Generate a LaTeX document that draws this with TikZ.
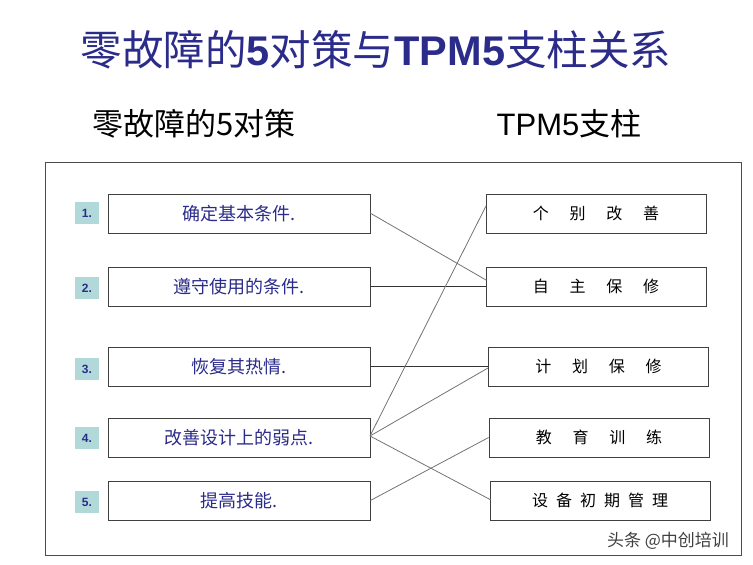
\documentclass[tikz,border=0pt]{standalone}
\usepackage{fontspec}
\newfontfamily\cjk{Noto Sans CJK SC}
\setmainfont{Liberation Sans}
\begin{document}
\begin{tikzpicture}[x=1pt,y=-1pt,
  lbox/.style={draw=black!75,line width=0.8pt,minimum width=262pt,minimum height=39pt,inner sep=0pt,font=\cjk\fontsize{18}{20}\selectfont,text=navy},
  rbox/.style={draw=black!75,line width=0.8pt,minimum width=220pt,minimum height=39pt,inner sep=0pt,font=\cjk\fontsize{16}{18}\selectfont},
  num/.style={fill=teal!30,minimum width=24pt,minimum height=22pt,inner sep=0pt,font=\bfseries\fontsize{12}{14}\selectfont,text=navy},
  conn/.style={draw=black!55,line width=0.8pt}]
\definecolor{navy}{HTML}{2B2B8A}
\useasboundingbox (0,0) rectangle (753,565);
\node[font=\fontsize{41.5}{48}\selectfont,text=navy] (title) at (376,50) {{\cjk 零故障的}\textbf{5}{\cjk 对策与}\textbf{TPM5}{\cjk 支柱关系}};
\node[font=\cjk\fontsize{31}{34}\selectfont] (s1) at (194,124) {零故障的5对策};
\node[font=\fontsize{31}{34}\selectfont] (s2) at (569,124) {TPM5{\cjk 支柱}};
\node[draw=black!70,line width=0.8pt,minimum width=696pt,minimum height=393pt,inner sep=0pt] (frame) at (393,358.5) {};
\node[lbox] (l1) at (239,213.5) {确定基本条件.};
\node[lbox] (l2) at (239,286.5) {遵守使用的条件.};
\node[lbox] (l3) at (239,366.5) {恢复其热情.};
\node[lbox] (l4) at (239,437.5) {改善设计上的弱点.};
\node[lbox] (l5) at (239,500.5) {提高技能.};
\foreach \i/\y in {1/213,2/288,3/369,4/438,5/502}{\node[num] (n\i) at (87,\y) {\i.};}
\node[rbox] (r1) at (596,213.5) {个\hspace{1.3em}别\hspace{1.3em}改\hspace{1.3em}善};
\node[rbox] (r2) at (596,286.5) {自\hspace{1.3em}主\hspace{1.3em}保\hspace{1.3em}修};
\node[rbox] (r3) at (598.5,366.5) {计\hspace{1.3em}划\hspace{1.3em}保\hspace{1.3em}修};
\node[rbox] (r4) at (599,437.5) {教\hspace{1.3em}育\hspace{1.3em}训\hspace{1.3em}练};
\node[rbox] (r5) at (600,500.5) {设\hspace{0.5em}备\hspace{0.5em}初\hspace{0.5em}期\hspace{0.5em}管\hspace{0.5em}理};
\node[font=\cjk\fontsize{17}{20}\selectfont,text=black!75] (wm) at (668,541) {头条 @中创培训};
\coordinate (a1) at (370,213); \coordinate (b2) at (486,280);
\draw[conn] (a1) -- (b2);
\draw[conn,draw=black!80] (l2.east) -- (r2.west);
\draw[conn,draw=black!80] (l3.east) -- (r3.west);
\coordinate (a4) at (370,436);
\coordinate (b1) at (486,206);
\coordinate (b3) at (488,368);
\coordinate (b5) at (491,500);
\draw[conn] (a4) -- (b1);
\draw[conn] (a4) -- (b3);
\draw[conn] (a4) -- (b5);
\draw[conn] (l5.east) -- (r4.west);
\end{tikzpicture}
\end{document}
